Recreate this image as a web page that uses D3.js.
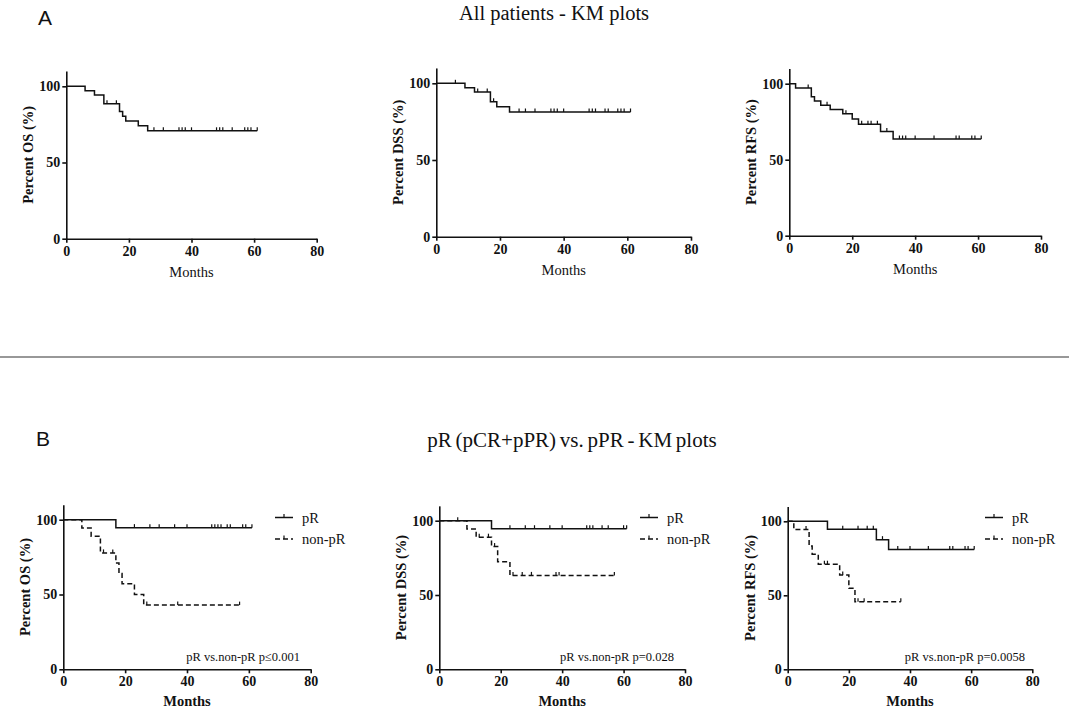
<!DOCTYPE html>
<html>
<head>
<meta charset="utf-8">
<script src="https://cdn.jsdelivr.net/npm/d3@7"></script>
<style>
  body { margin: 0; background: #fff; }
  text { fill: #111; }
</style>
</head>
<body>
<svg id="fig" width="1069" height="711"></svg>
<script>
// ---- data: [month, percent surviving] at each drop, and censor months ----
const xTicks = [0, 20, 40, 60, 80];
const yTicks = [0, 50, 100];

const osAllSteps = [[6, 97.1], [9, 94.3], [12, 88.6], [17, 83.4], [18, 80.3], [19, 77.2], [23, 74.1], [26, 70.8]];
const osAllCensor = [13, 16, 28, 31, 36, 37, 38, 40, 48, 49, 50, 53, 57, 58, 59, 61];

const dssAllSteps = [[9, 97.1], [12, 94.3], [17, 88.0], [19, 84.7], [23, 81.3]];
const dssAllCensor = [6, 13, 16, 18, 26, 28, 31, 36, 37, 38, 40, 48, 49, 50, 53, 54, 57, 58, 59, 61];

const rfsAllSteps = [[2, 97.1], [7, 91.4], [8, 88.6], [10, 85.8], [13, 83.0], [17, 80.2], [20, 76.8], [22, 73.4], [29, 68.5], [33, 63.6]];
const rfsAllCensor = [6, 12, 18, 23, 25, 26, 28, 31, 35, 36, 37, 40, 46, 53, 54, 58, 59, 61];

const osPrSteps = [[17, 94.7]];
const osPrCensor = [23, 28, 31, 36, 40, 48, 49, 50, 51, 53, 54, 58, 59, 61];
const osNonSteps = [[6, 94.4], [9, 88.9], [12, 77.8], [17, 71.0], [18, 64.0], [19, 57.2], [23, 50.0], [26, 42.9]];
const osNonCensor = [13, 16, 27, 37, 57];

const dssPrSteps = [[17, 94.6]];
const dssPrCensor = [6, 23, 28, 31, 36, 40, 48, 49, 50, 53, 55, 60, 61];
const dssNonSteps = [[9, 94.4], [12, 88.9], [17, 82.6], [19, 72.3], [23, 63.2]];
const dssNonCensor = [13, 16, 18, 24, 27, 30, 38, 39, 57];

const rfsPrSteps = [[13, 94.7], [29, 87.6], [33, 80.9]];
const rfsPrCensor = [18, 23, 26, 28, 31, 36, 40, 46, 53, 54, 58, 59, 61];
const rfsNonSteps = [[2, 94.4], [7, 83.3], [8, 77.8], [10, 71.0], [17, 63.8], [20, 54.7], [22, 45.6]];
const rfsNonCensor = [6, 12, 13, 18, 23, 25, 37];

const legendLabels = ["pR", "non-pR"];

// ---- layout ----
const serif = "'Liberation Serif', 'Times New Roman', serif";
const sans = "'Liberation Sans', Arial, sans-serif";
const ink = "#111";

const panels = [
  {x0: 66.3, x80: 316.7, y0: 238.7, y100: 86.3, ytitle: "Percent OS (%)", bold: false,
   curves: [{steps: osAllSteps, censor: osAllCensor, dash: null}]},
  {x0: 436.3, x80: 691, y0: 236.7, y100: 83.3, ytitle: "Percent DSS (%)", bold: false,
   curves: [{steps: dssAllSteps, censor: dssAllCensor, dash: null}]},
  {x0: 789.3, x80: 1041, y0: 235.7, y100: 83.7, ytitle: "Percent RFS (%)", bold: false,
   curves: [{steps: rfsAllSteps, censor: rfsAllCensor, dash: null}]},
  {x0: 63.3, x80: 310.7, y0: 669.3, y100: 519.7, ytitle: "Percent OS (%)", bold: true,
   note: "pR vs.non-pR p\u22640.001", noteX: 300, legX: 275,
   curves: [{steps: osPrSteps, censor: osPrCensor, dash: null},
            {steps: osNonSteps, censor: osNonCensor, dash: "5,3"}]},
  {x0: 439.3, x80: 685, y0: 669.3, y100: 520.7, ytitle: "Percent DSS (%)", bold: true,
   note: "pR vs.non-pR p=0.028", noteX: 674, legX: 640,
   curves: [{steps: dssPrSteps, censor: dssPrCensor, dash: null},
            {steps: dssNonSteps, censor: dssNonCensor, dash: "5,3"}]},
  {x0: 787.7, x80: 1032.3, y0: 669.3, y100: 521.3, ytitle: "Percent RFS (%)", bold: true,
   note: "pR vs.non-pR p=0.0058", noteX: 1025, legX: 985,
   curves: [{steps: rfsPrSteps, censor: rfsPrCensor, dash: null},
            {steps: rfsNonSteps, censor: rfsNonCensor, dash: "5,3"}]}
];

const svg = d3.select("#fig");

// headings
svg.append("text").attr("x", 38).attr("y", 25).attr("font-family", sans).attr("font-size", 21).text("A");
svg.append("text").attr("x", 36).attr("y", 446).attr("font-family", sans).attr("font-size", 21).text("B");
svg.append("text").attr("x", 554).attr("y", 20).attr("text-anchor", "middle")
  .attr("font-family", serif).attr("font-size", 20.5).text("All patients - KM plots");
svg.append("text").attr("x", 572).attr("y", 447).attr("text-anchor", "middle")
  .attr("font-family", serif).attr("font-size", 21).attr("word-spacing", -1.5)
  .text("pR (pCR+pPR) vs. pPR - KM plots");

// divider
svg.append("line").attr("x1", 0).attr("x2", 1069).attr("y1", 357).attr("y2", 357)
  .attr("stroke", "#333").attr("stroke-width", 1.2);

// value of the step curve at month t
function levelAt(steps, t) {
  let v = 100;
  for (const [m, s] of steps) if (m <= t) v = s;
  return v;
}

panels.forEach(p => {
  const x = d3.scaleLinear().domain([0, 80]).range([p.x0, p.x80]);
  const y = d3.scaleLinear().domain([0, 110]).range([p.y0, p.y0 - 1.1 * (p.y0 - p.y100)]);
  const g = svg.append("g");

  // axes
  g.append("g").attr("transform", `translate(0,${p.y0})`)
    .call(d3.axisBottom(x).tickValues(xTicks).tickSizeInner(4).tickSizeOuter(0).tickPadding(3))
    .call(a => a.selectAll("path, line").attr("stroke", ink).attr("stroke-width", 1.6))
    .call(a => a.selectAll("text").attr("font-family", serif).attr("font-size", 14)
      .attr("font-weight", "bold").attr("fill", ink));
  g.append("g").attr("transform", `translate(${p.x0},0)`)
    .call(d3.axisLeft(y).tickValues(yTicks).tickSizeInner(4).tickSizeOuter(0).tickPadding(2))
    .call(a => a.selectAll("path, line").attr("stroke", ink).attr("stroke-width", 1.6))
    .call(a => a.selectAll("text").attr("font-family", serif).attr("font-size", 14)
      .attr("font-weight", "bold").attr("fill", ink));

  // axis titles
  g.append("text")
    .attr("transform", `translate(${p.x0 - 38},${y(55)}) rotate(-90)`)
    .attr("text-anchor", "middle").attr("dominant-baseline", "central")
    .attr("font-family", serif).attr("font-size", 14.5).attr("font-weight", "bold")
    .text(p.ytitle);
  g.append("text")
    .attr("x", (p.x0 + p.x80) / 2).attr("y", p.y0 + (p.bold ? 37 : 38))
    .attr("text-anchor", "middle")
    .attr("font-family", serif).attr("font-size", 14.5)
    .attr("font-weight", p.bold ? "bold" : "normal")
    .text("Months");

  // KM curves
  p.curves.forEach(c => {
    const end = d3.max(c.censor);
    let pts = [[0, 100]];
    let prev = 100;
    c.steps.forEach(([m, s]) => { pts.push([m, prev]); pts.push([m, s]); prev = s; });
    pts.push([end, prev]);
    g.append("path")
      .attr("d", d3.line().x(d => x(d[0])).y(d => y(d[1]))(pts))
      .attr("fill", "none").attr("stroke", ink).attr("stroke-width", 1.5)
      .attr("stroke-dasharray", c.dash);
    g.selectAll(null).data(c.censor).join("line")
      .attr("x1", t => x(t)).attr("x2", t => x(t))
      .attr("y1", t => y(levelAt(c.steps, t)) - 3.5)
      .attr("y2", t => y(levelAt(c.steps, t)))
      .attr("stroke", ink).attr("stroke-width", 1.2);
  });

  // legend + p value
  if (p.note) {
    p.curves.forEach((c, i) => {
      const ly = 517.5 + i * 21.5;
      g.append("line").attr("x1", p.legX).attr("x2", p.legX + 18).attr("y1", ly).attr("y2", ly)
        .attr("stroke", ink).attr("stroke-width", 1.5).attr("stroke-dasharray", c.dash ? "5,3" : null);
      g.append("line").attr("x1", p.legX + 9).attr("x2", p.legX + 9).attr("y1", ly - 3.5).attr("y2", ly)
        .attr("stroke", ink).attr("stroke-width", 1.2);
      g.append("text").attr("x", p.legX + 27).attr("y", ly + 5)
        .attr("font-family", serif).attr("font-size", 14.5).text(legendLabels[i]);
    });
    g.append("text").attr("x", p.noteX).attr("y", 661).attr("text-anchor", "end")
      .attr("font-family", serif).attr("font-size", 12.5).text(p.note);
  }
});
</script>
</body>
</html>
